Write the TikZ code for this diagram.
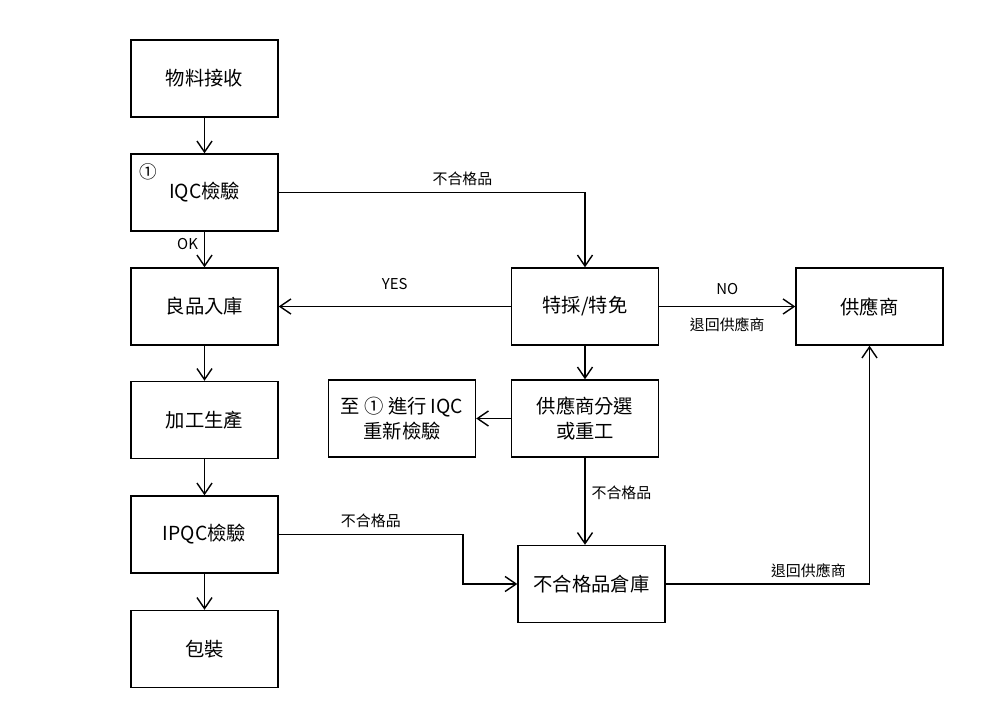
\documentclass[tikz,border=0pt]{standalone}
\usepackage{fontspec}
\setmainfont{Liberation Serif}
\newfontfamily\cjk{Noto Sans CJK TC}
\usetikzlibrary{arrows.meta}
\tikzset{
  box/.style={draw,thick,minimum width=2.94cm,minimum height=1.54cm,align=center,font=\cjk\fontsize{11}{14}\selectfont},
  lbl/.style={font=\cjk\fontsize{8.5}{10}\selectfont},
  flow/.style={thick,-{Straight Barb[length=2.2mm,width=3mm]}}
}
\begin{document}
\begin{tikzpicture}[x=0.02cm,y=-0.02cm]
	\useasboundingbox (0,0) rectangle (1000,715);
	\node[box] (recv) at (204.5,78.5) {物料接收};
	\node[box] (iqc) at (204.5,192.5) {IQC檢驗};
	\node[lbl,font=\cjk\fontsize{10}{12}\selectfont] (mark) at (148,172) {①};
	\node[box] (store) at (204.5,306.5) {良品入庫};
	\node[box] (proc) at (204.5,420) {加工生產};
	\node[box] (ipqc) at (204.5,534.5) {IPQC檢驗};
	\node[box] (pack) at (204.5,649) {包裝};
	\node[box] (spec) at (585,306.5) {特採/特免};
	\node[box] (supp) at (869.5,306.5) {供應商};
	\node[box] (sort) at (585,418.5) {供應商分選\\或重工};
	\node[box] (reiqc) at (402,418.5) {至 ① 進行 IQC\\重新檢驗};
	\node[box] (ng) at (591.5,584) {不合格品倉庫};
	% main line
	\draw[flow] (recv) -- (iqc);
	\draw[flow] (iqc) -- node[lbl,left,pos=0.35] {OK} (store);
	\draw[flow] (store) -- (proc);
	\draw[flow] (proc) -- (ipqc);
	\draw[flow] (ipqc) -- (pack);
	% rejects
	\draw[flow] (iqc.east) -| node[lbl,above,pos=0.3] {不合格品} (spec.north);
	\draw[flow] (spec) -- node[lbl,above,pos=0.5,yshift=2mm] {YES} (store);
	\draw[flow] (spec) -- node[lbl,above,yshift=1mm] {NO} node[lbl,below,yshift=-1mm] {退回供應商} (supp);
	\draw[flow] (spec) -- (sort);
	\draw[flow] (sort) -- (reiqc);
	\draw[flow] (sort.south) -- node[lbl,right,pos=0.4] {不合格品} (sort.south |- ng.north);
	\coordinate (bend) at (463,534.5);
	\draw[flow] (ipqc.east) -- node[lbl,above,pos=0.5] {不合格品} (bend) |- (ng.west);
	\draw[flow] (ng.east) -| node[lbl,above,pos=0.35] {退回供應商} (supp.south);
\end{tikzpicture}
\end{document}
